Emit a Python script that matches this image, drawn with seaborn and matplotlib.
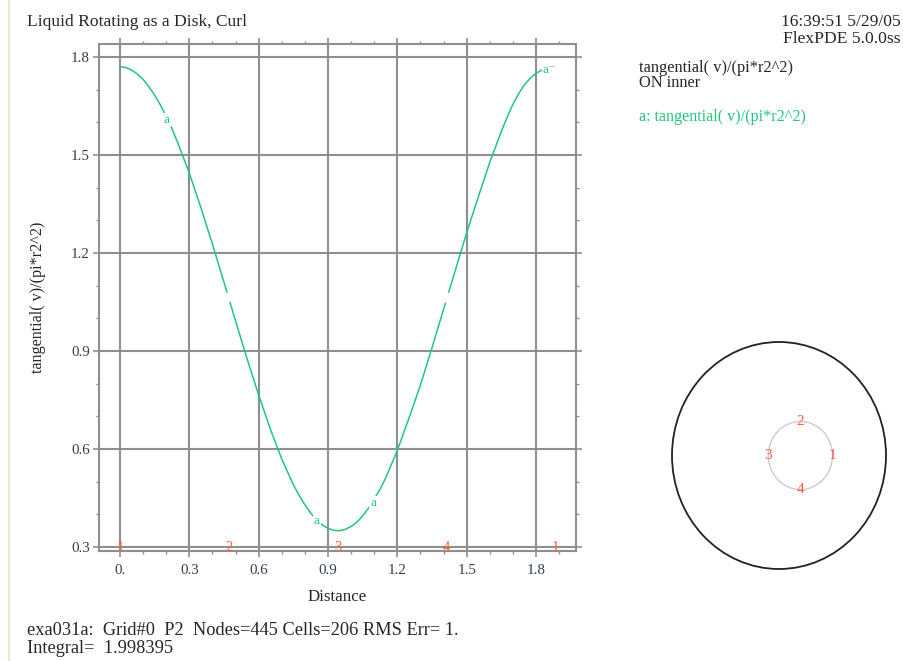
import matplotlib
matplotlib.use("Agg")
import matplotlib.pyplot as plt
import seaborn as sns
import pandas as pd
from matplotlib.patches import Circle
from matplotlib.ticker import MultipleLocator
from matplotlib.lines import Line2D

# ---------------- data ----------------
seg0_distance = [0.00, 0.025, 0.05, 0.075, 0.10, 0.125, 0.15, 0.175, 0.20, 0.225, 0.25,
                 0.30, 0.35, 0.40, 0.45, 0.463]
seg0_value = [1.770, 1.768, 1.760, 1.748, 1.731, 1.709, 1.683, 1.653, 1.618, 1.580, 1.537,
              1.444, 1.339, 1.227, 1.110, 1.080]
seg1_distance = [0.476, 0.50, 0.55, 0.60, 0.65, 0.70, 0.75, 0.775, 0.80, 0.825, 0.85, 0.875,
                 0.90, 0.925, 0.95, 0.975, 1.00, 1.025, 1.05, 1.075, 1.10, 1.125, 1.15,
                 1.20, 1.25, 1.30, 1.35, 1.40, 1.408]
seg1_value = [1.049, 0.992, 0.876, 0.765, 0.662, 0.569, 0.491, 0.458, 0.429, 0.404, 0.383, 0.368,
              0.357, 0.351, 0.350, 0.354, 0.363, 0.376, 0.395, 0.419, 0.447, 0.477, 0.512,
              0.596, 0.694, 0.796, 0.910, 1.028, 1.047]
seg2_distance = [1.422, 1.45, 1.50, 1.55, 1.60, 1.65, 1.675, 1.70, 1.725, 1.75, 1.775, 1.80,
                 1.825, 1.85, 1.865, 1.885]
seg2_value = [1.080, 1.145, 1.262, 1.371, 1.478, 1.572, 1.616, 1.655, 1.688, 1.715, 1.735, 1.750,
              1.760, 1.767, 1.769, 1.770]

label_a_distance = [0.203, 0.852, 1.095, 1.857]
label_a_value = [1.607, 0.380, 0.435, 1.760]
label_a_text = ["a", "a", "a", "a\u207b"]

boundary_distance = [0.0, 0.471, 0.942, 1.414, 1.885]
boundary_labels = ["1", "2", "3", "4", "1"]

x_ticks = [0.0, 0.3, 0.6, 0.9, 1.2, 1.5, 1.8]
x_tick_labels = ["0.", "0.3", "0.6", "0.9", "1.2", "1.5", "1.8"]
y_ticks = [0.3, 0.6, 0.9, 1.2, 1.5, 1.8]
y_tick_labels = ["0.3", "0.6", "0.9", "1.2", "1.5", "1.8"]

# geometry sketch
outer_radius = 1.0
inner_center = (0.2, 0.0)
inner_radius = 0.3
inner_label_x = [0.5, 0.2, -0.1, 0.2]
inner_label_y = [0.0, 0.3, 0.0, -0.3]
inner_labels = ["1", "2", "3", "4"]

# ---------------- styling ----------------
sns.set_style("white")
plt.rcParams["font.family"] = ["Liberation Serif", "DejaVu Serif"]

GREEN = "#1fc77c"
RED = "#ff5a3a"
GRAY = "#8f8f8f"
TICKC = "#333d55"

W, H = 904, 661
fig = plt.figure(figsize=(W / 100, H / 100), dpi=100)

ax = fig.add_axes([99 / W, 1 - 551 / H, 477 / W, 507 / H])

df = pd.DataFrame({
    "Distance": seg0_distance + seg1_distance + seg2_distance,
    "value": seg0_value + seg1_value + seg2_value,
    "segment": [0] * len(seg0_distance) + [1] * len(seg1_distance) + [2] * len(seg2_distance),
})
sns.lineplot(data=df, x="Distance", y="value", units="segment", estimator=None,
             color=GREEN, lw=1.1, ax=ax, legend=False, zorder=3)

ax.set_xlim(-0.0909, 1.973)
ax.set_ylim(0.2878, 1.8398)
ax.set_xticks(x_ticks)
ax.set_xticklabels(x_tick_labels)
ax.set_yticks(y_ticks)
ax.set_yticklabels(y_tick_labels)
ax.xaxis.set_minor_locator(MultipleLocator(0.1))
ax.yaxis.set_minor_locator(MultipleLocator(0.1))
ax.grid(True, which="major", color=GRAY, lw=1.5)
ax.set_axisbelow(True)
for sp in ax.spines.values():
    sp.set_color(GRAY)
    sp.set_linewidth(1.5)
ax.tick_params(which="both", direction="out", top=True, right=True, bottom=True, left=True,
               labeltop=False, labelright=False, color=GRAY, labelcolor=TICKC, labelsize=10.8)
ax.tick_params(which="major", length=4.5, width=1.2)
ax.tick_params(which="minor", length=2.5, width=1.0)
ax.tick_params(axis="x", pad=5)
ax.tick_params(axis="y", pad=2)
ax.set_xlabel("")
ax.set_ylabel("")

for xd, yd, t in zip(label_a_distance, label_a_value, label_a_text):
    ax.text(xd, yd, t, color=GREEN, fontsize=9.5, ha="center", va="center", zorder=4,
            bbox=dict(boxstyle="square,pad=0.05", fc="white", ec="none"))

for xd, t in zip(boundary_distance, boundary_labels):
    ax.text(xd, 0.3, t, color=RED, fontsize=10.5, ha="center", va="center", zorder=5,
            clip_on=False)

# axis titles
fig.text(337 / W, 1 - 597 / H, "Distance", fontsize=12.2, ha="center", va="center")
fig.text(38 / W, 1 - 297 / H, "tangential( v)/(pi*r2^2)", fontsize=11.6, rotation=90,
         ha="center", va="center")

# header / footer texts
fig.text(27 / W, 1 - 26 / H, "Liquid Rotating as a Disk, Curl", fontsize=12.6, va="baseline")
fig.text(901 / W, 1 - 26 / H, "16:39:51 5/29/05", fontsize=12.6, va="baseline", ha="right")
fig.text(901 / W, 1 - 43 / H, "FlexPDE 5.0.0ss", fontsize=12.6, va="baseline", ha="right")
fig.text(639 / W, 1 - 87 / H, "tangential( v)/(pi*r2^2)\nON inner", fontsize=11.8,
         va="baseline", linespacing=0.88)
fig.text(639 / W, 1 - 121 / H, "a: tangential( v)/(pi*r2^2)", fontsize=11.6, va="baseline",
         color=GREEN)
fig.text(27 / W, 1 - 653 / H, "exa031a:  Grid#0  P2  Nodes=445 Cells=206 RMS Err= 1.\n"
         "Integral=  1.998395", fontsize=13.2, va="baseline", linespacing=1.05)

# faint left border
fig.add_artist(Line2D([8.5 / W, 8.5 / W], [0, 1], transform=fig.transFigure,
                      color="#ece6d2", lw=1.5))

# geometry sketch
ax2 = fig.add_axes([659 / W, 1 - 580 / H, 240 / W, 250 / H])
ax2.set_xlim(-1.1215, 1.1215)
ax2.set_ylim(-1.0969, 1.1057)
ax2.axis("off")
ax2.add_patch(Circle((0, 0), outer_radius, fill=False, ec="#222222", lw=1.3))
ax2.add_patch(Circle(inner_center, inner_radius, fill=False, ec="#cccccc", lw=1.0))
for xx, yy, t in zip(inner_label_x, inner_label_y, inner_labels):
    ax2.text(xx, yy, t, color=RED, fontsize=11, ha="center", va="center")

fig.savefig("out.png", dpi=100)
